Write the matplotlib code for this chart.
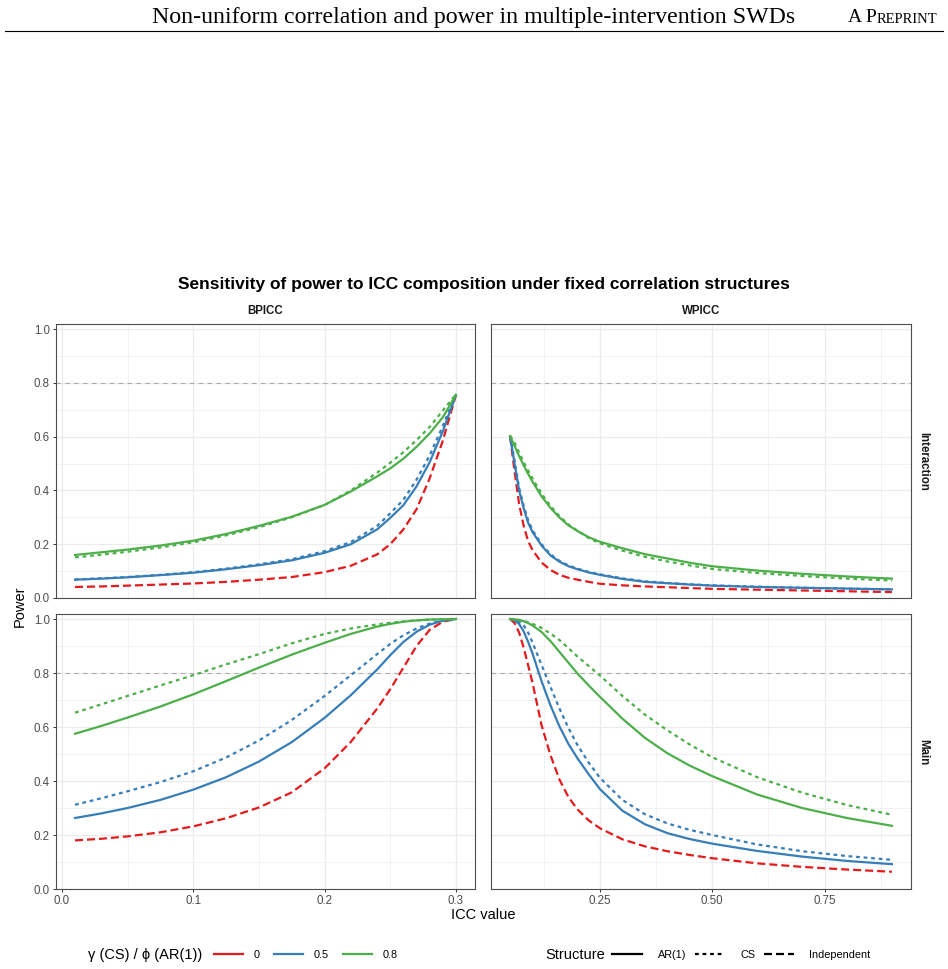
import matplotlib
matplotlib.use("Agg")
import matplotlib.pyplot as plt
from matplotlib.lines import Line2D

plt.rcParams['font.family'] = ['Liberation Sans', 'DejaVu Sans']

# ICC grids (x values)
icc_bp = [0.01, 0.03, 0.05, 0.075, 0.10, 0.125, 0.15, 0.175, 0.20, 0.22, 0.24,
          0.25, 0.26, 0.27, 0.28, 0.29, 0.30]
icc_wp = [0.05, 0.06, 0.07, 0.08, 0.09, 0.10, 0.12, 0.14, 0.16, 0.18, 0.20,
          0.225, 0.25, 0.30, 0.35, 0.40, 0.45, 0.50, 0.60, 0.70, 0.80, 0.90]

# Interaction effect, BPICC
int_bp_ind = [0.041, 0.043, 0.046, 0.050, 0.054, 0.060, 0.068, 0.078, 0.096, 0.120, 0.162,
              0.200, 0.255, 0.330, 0.445, 0.585, 0.755]
int_bp_ar05 = [0.068, 0.072, 0.077, 0.085, 0.094, 0.107, 0.122, 0.140, 0.168, 0.200, 0.255,
               0.298, 0.345, 0.415, 0.505, 0.620, 0.755]
int_bp_cs05 = [0.069, 0.073, 0.078, 0.086, 0.096, 0.109, 0.125, 0.144, 0.174, 0.208, 0.268,
               0.315, 0.365, 0.440, 0.530, 0.640, 0.757]
int_bp_ar08 = [0.160, 0.170, 0.180, 0.195, 0.213, 0.238, 0.268, 0.302, 0.346, 0.396, 0.452,
               0.482, 0.518, 0.562, 0.612, 0.672, 0.755]
int_bp_cs08 = [0.151, 0.161, 0.172, 0.188, 0.207, 0.233, 0.263, 0.300, 0.346, 0.400, 0.466,
               0.503, 0.542, 0.587, 0.636, 0.697, 0.757]

# Interaction effect, WPICC
int_wp_ind = [0.600, 0.470, 0.350, 0.270, 0.212, 0.178, 0.132, 0.104, 0.086, 0.075, 0.068,
              0.060, 0.053, 0.047, 0.043, 0.040, 0.037, 0.034, 0.031, 0.028, 0.025, 0.022]
int_wp_ar05 = [0.600, 0.500, 0.400, 0.335, 0.280, 0.245, 0.195, 0.158, 0.135, 0.118, 0.107,
               0.095, 0.086, 0.071, 0.060, 0.055, 0.050, 0.046, 0.041, 0.038, 0.035, 0.032]
int_wp_cs05 = [0.602, 0.510, 0.410, 0.345, 0.290, 0.252, 0.200, 0.162, 0.138, 0.121, 0.109,
               0.097, 0.088, 0.073, 0.062, 0.056, 0.051, 0.047, 0.042, 0.038, 0.035, 0.032]
int_wp_ar08 = [0.602, 0.565, 0.528, 0.494, 0.462, 0.432, 0.378, 0.335, 0.299, 0.270, 0.249,
               0.226, 0.209, 0.185, 0.163, 0.147, 0.131, 0.118, 0.102, 0.090, 0.080, 0.072]
int_wp_cs08 = [0.602, 0.577, 0.541, 0.506, 0.474, 0.444, 0.388, 0.342, 0.304, 0.273, 0.250,
               0.223, 0.203, 0.176, 0.153, 0.136, 0.121, 0.108, 0.093, 0.082, 0.072, 0.065]

# Main effect, BPICC
main_bp_ind = [0.180, 0.186, 0.195, 0.210, 0.232, 0.262, 0.302, 0.358, 0.447, 0.545, 0.668,
               0.740, 0.820, 0.900, 0.960, 0.990, 1.000]
main_bp_ar05 = [0.263, 0.280, 0.300, 0.330, 0.368, 0.414, 0.472, 0.544, 0.634, 0.718, 0.813,
                0.866, 0.915, 0.953, 0.979, 0.994, 1.000]
main_bp_cs05 = [0.312, 0.336, 0.362, 0.396, 0.436, 0.487, 0.550, 0.626, 0.715, 0.792, 0.870,
                0.908, 0.940, 0.965, 0.983, 0.995, 1.000]
main_bp_ar08 = [0.575, 0.604, 0.635, 0.676, 0.721, 0.770, 0.820, 0.868, 0.912, 0.945, 0.972,
                0.982, 0.990, 0.995, 0.998, 0.999, 1.000]
main_bp_cs08 = [0.653, 0.684, 0.715, 0.754, 0.792, 0.832, 0.870, 0.910, 0.945, 0.965, 0.980,
                0.986, 0.991, 0.995, 0.998, 0.999, 1.000]

# Main effect, WPICC
main_wp_ind = [1.000, 0.985, 0.950, 0.895, 0.830, 0.763, 0.607, 0.495, 0.405, 0.340, 0.295,
               0.254, 0.225, 0.184, 0.158, 0.140, 0.126, 0.114, 0.095, 0.082, 0.072, 0.064]
main_wp_ar05 = [1.000, 0.995, 0.982, 0.955, 0.916, 0.872, 0.770, 0.680, 0.602, 0.537, 0.484,
                0.425, 0.370, 0.290, 0.240, 0.207, 0.185, 0.168, 0.141, 0.120, 0.104, 0.092]
main_wp_cs05 = [1.000, 0.997, 0.990, 0.977, 0.950, 0.913, 0.830, 0.748, 0.668, 0.596, 0.533,
                0.468, 0.412, 0.330, 0.277, 0.243, 0.219, 0.200, 0.165, 0.140, 0.122, 0.108]
main_wp_ar08 = [1.000, 0.999, 0.996, 0.992, 0.985, 0.976, 0.952, 0.918, 0.878, 0.838, 0.798,
                0.754, 0.712, 0.631, 0.560, 0.503, 0.457, 0.418, 0.350, 0.300, 0.263, 0.234]
main_wp_cs08 = [1.000, 0.999, 0.997, 0.993, 0.988, 0.982, 0.967, 0.946, 0.922, 0.892, 0.861,
                0.826, 0.791, 0.715, 0.646, 0.588, 0.535, 0.488, 0.414, 0.357, 0.311, 0.275]

gamma_labels = ["0", "0.5", "0.8"]
structure_labels = ["AR(1)", "CS", "Independent"]

colors = {"0": "#E41A1C", "0.5": "#377EB8", "0.8": "#4DAF4A"}
lw = 1.6
styles = {"AR(1)": "-", "CS": (0, (1.7, 1.7)), "Independent": (0, (3.6, 1.8))}

W, H = 948, 969
fig = plt.figure(figsize=(W / 100, H / 100), dpi=100)


def px_axes(l, t, r, b):
    return fig.add_axes([l / W, 1 - b / H, (r - l) / W, (b - t) / H])


def draw_panel(ax, x, ind, ar05, cs05, ar08, cs08, xlim, xmaj, xmin):
    ax.set_xlim(*xlim)
    ax.set_ylim(0, 1.0186)
    ax.set_xticks(xmaj)
    ax.set_xticks(xmin, minor=True)
    ax.set_yticks([0.0, 0.2, 0.4, 0.6, 0.8, 1.0])
    ax.set_yticks([0.1, 0.3, 0.5, 0.7, 0.9], minor=True)
    ax.grid(which="major", color="#EBEBEB", lw=0.9)
    ax.grid(which="minor", color="#EBEBEB", lw=0.45)
    ax.set_axisbelow(True)
    for s in ax.spines.values():
        s.set_color("#4D4D4D")
        s.set_linewidth(0.8)
    ax.tick_params(which="major", length=2.5, width=0.7, color="#333333",
                   labelsize=8.3, labelcolor="#4D4D4D", pad=2)
    ax.tick_params(which="minor", length=0)
    ax.axhline(0.8, color="#ABABAB", lw=0.8, ls=(0, (4, 4)), zorder=1)
    ax.plot(x, ind, color=colors["0"], lw=lw, ls=styles["Independent"], zorder=2)
    ax.plot(x, ar05, color=colors["0.5"], lw=lw, ls=styles["AR(1)"], zorder=2)
    ax.plot(x, cs05, color=colors["0.5"], lw=lw, ls=styles["CS"], zorder=2)
    ax.plot(x, ar08, color=colors["0.8"], lw=lw, ls=styles["AR(1)"], zorder=2)
    ax.plot(x, cs08, color=colors["0.8"], lw=lw, ls=styles["CS"], zorder=2)


bp_lim = (-0.0045, 0.3145)
wp_lim = (0.0075, 0.9425)
bp_maj = [0.0, 0.1, 0.2, 0.3]
bp_min = [0.05, 0.15, 0.25]
wp_maj = [0.25, 0.50, 0.75]
wp_min = [0.125, 0.375, 0.625, 0.875]

ax_tl = px_axes(56, 324, 475, 598)
ax_tr = px_axes(491, 324, 911, 598)
ax_bl = px_axes(56, 614, 475, 889)
ax_br = px_axes(491, 614, 911, 889)

draw_panel(ax_tl, icc_bp, int_bp_ind, int_bp_ar05, int_bp_cs05, int_bp_ar08, int_bp_cs08,
           bp_lim, bp_maj, bp_min)
draw_panel(ax_tr, icc_wp, int_wp_ind, int_wp_ar05, int_wp_cs05, int_wp_ar08, int_wp_cs08,
           wp_lim, wp_maj, wp_min)
draw_panel(ax_bl, icc_bp, main_bp_ind, main_bp_ar05, main_bp_cs05, main_bp_ar08, main_bp_cs08,
           bp_lim, bp_maj, bp_min)
draw_panel(ax_br, icc_wp, main_wp_ind, main_wp_ar05, main_wp_cs05, main_wp_ar08, main_wp_cs08,
           wp_lim, wp_maj, wp_min)

ax_bl.set_xticklabels(["0.0", "0.1", "0.2", "0.3"])
ax_br.set_xticklabels(["0.25", "0.50", "0.75"])
for a in (ax_tl, ax_tr):
    a.tick_params(which="major", bottom=False, labelbottom=False)
for a in (ax_tr, ax_br):
    a.tick_params(which="major", left=False, labelleft=False)

# strip labels
strip_kw = dict(fontsize=8.3, fontweight="bold", color="#1A1A1A", ha="center", va="center")
fig.text((56 + 475) / 2 / W, 1 - 311 / H, "BPICC", **strip_kw)
fig.text((491 + 911) / 2 / W, 1 - 311 / H, "WPICC", **strip_kw)
fig.text(923 / W, 1 - 461 / H, "Interaction", rotation=270, **strip_kw)
fig.text(923 / W, 1 - 752 / H, "Main", rotation=270, **strip_kw)

# titles
fig.text(484 / W, 1 - 284 / H, "Sensitivity of power to ICC composition under fixed correlation structures",
         fontsize=12.5, fontweight="bold", ha="center", va="center")
fig.text(483 / W, 1 - 915 / H, "ICC value", fontsize=10.5, ha="center", va="center")
fig.text(20 / W, 1 - 606 / H, "Power", fontsize=10.5, rotation=90, ha="center", va="center")

# legends
fig.text(88 / W, 1 - 955 / H, "γ (CS) / ϕ (AR(1))", fontsize=10.5, ha="left", va="center")
color_handles = [Line2D([], [], color=colors[g], lw=lw) for g in gamma_labels]
fig.legend(color_handles, gamma_labels, loc="center left", bbox_to_anchor=(214 / W, 1 - 955 / H),
           ncol=3, frameon=False, fontsize=7.8, handlelength=2.65, handletextpad=1.0,
           columnspacing=1.35, borderpad=0, borderaxespad=0)

fig.text(545 / W, 1 - 955 / H, "Structure", fontsize=10.5, ha="left", va="center")
style_handles = [Line2D([], [], color="black", lw=lw, ls=styles[s]) for s in structure_labels]
fig.legend(style_handles, structure_labels, loc="center left", bbox_to_anchor=(612 / W, 1 - 955 / H),
           ncol=3, frameon=False, fontsize=7.8, handlelength=2.8, handletextpad=1.4,
           columnspacing=0.8, borderpad=0, borderaxespad=0)

# page header
fig.text(474 / W, 1 - 17.5 / H, "Non-uniform correlation and power in multiple-intervention SWDs",
         family="Liberation Serif", fontsize=17.2, ha="center", va="center")
hdr = fig.text(848 / W, 1 - 17.5 / H, "A P", family="Liberation Serif", fontsize=14,
               ha="left", va="center")
ax_tl.annotate("REPRINT", xy=(1, 0), xycoords=hdr, family="Liberation Serif", fontsize=10.5,
               ha="left", va="bottom", annotation_clip=False)
fig.add_artist(Line2D([5 / W, 943 / W], [1 - 31 / H, 1 - 31 / H], color="black", lw=0.8))

fig.savefig("out.png", dpi=100)
